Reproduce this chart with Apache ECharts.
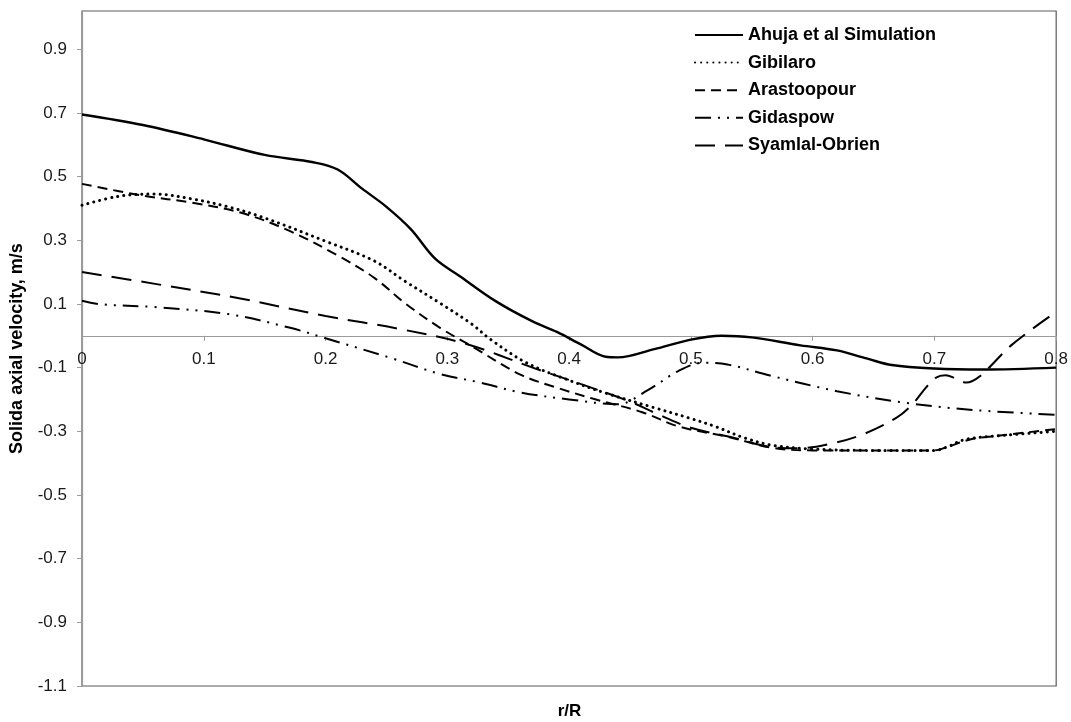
<!DOCTYPE html>
<html>
<head>
<meta charset="utf-8">
<title>Solids axial velocity profiles</title>
<script src="https://cdn.jsdelivr.net/npm/echarts@6/dist/echarts.min.js"></script>
<style>
  html, body { margin: 0; padding: 0; background: #fff; }
  #chart { width: 1071px; height: 722px; }
</style>
</head>
<body>
<div id="chart"></div>
<script>
// Radial profiles of solids axial velocity: [r/R, velocity m/s]
const ahuja = [
  [0, 0.695], [0.05, 0.662], [0.1, 0.617], [0.15, 0.568], [0.19, 0.545], [0.21, 0.522],
  [0.23, 0.462], [0.25, 0.405], [0.27, 0.335], [0.29, 0.242], [0.31, 0.188], [0.34, 0.108],
  [0.37, 0.045], [0.39, 0.012], [0.41, -0.028], [0.43, -0.066], [0.44, -0.068], [0.47, -0.042],
  [0.5, -0.012], [0.525, 0.0], [0.55, -0.005], [0.59, -0.03], [0.62, -0.046], [0.645, -0.072],
  [0.665, -0.092], [0.7, -0.103], [0.74, -0.106], [0.8, -0.1]
];
const gibilaro = [
  [0, 0.41], [0.03, 0.438], [0.06, 0.445], [0.09, 0.43], [0.12, 0.405], [0.15, 0.37],
  [0.2, 0.297], [0.24, 0.235], [0.265, 0.172], [0.295, 0.1], [0.32, 0.037], [0.335, -0.01],
  [0.365, -0.085], [0.4, -0.14], [0.43, -0.18], [0.47, -0.226], [0.5, -0.26], [0.52, -0.285],
  [0.545, -0.322], [0.567, -0.344], [0.6, -0.356], [0.65, -0.36], [0.7, -0.36], [0.71, -0.35],
  [0.725, -0.326], [0.75, -0.315], [0.8, -0.3]
];
const arastoopour = [
  [0, 0.477], [0.05, 0.44], [0.09, 0.418], [0.13, 0.387], [0.17, 0.33], [0.21, 0.252],
  [0.24, 0.182], [0.266, 0.1], [0.294, 0.025], [0.321, -0.035], [0.36, -0.122], [0.39, -0.163],
  [0.42, -0.198], [0.46, -0.24], [0.49, -0.285], [0.53, -0.317], [0.567, -0.352], [0.6, -0.36],
  [0.7, -0.36], [0.71, -0.35], [0.73, -0.325], [0.75, -0.315], [0.8, -0.293]
];
const gidaspow = [
  [0, 0.11], [0.015, 0.099], [0.06, 0.09], [0.12, 0.068], [0.171, 0.025], [0.2, -0.008],
  [0.253, -0.069], [0.294, -0.12], [0.327, -0.147], [0.36, -0.178], [0.4, -0.2], [0.44, -0.215],
  [0.465, -0.17], [0.49, -0.11], [0.51, -0.085], [0.53, -0.09], [0.565, -0.125], [0.62, -0.174],
  [0.675, -0.21], [0.735, -0.234], [0.8, -0.248]
];
const syamlal = [
  [0, 0.2], [0.06, 0.163], [0.13, 0.117], [0.2, 0.062], [0.26, 0.022], [0.315, -0.025],
  [0.37, -0.1], [0.41, -0.152], [0.45, -0.207], [0.475, -0.25], [0.5, -0.289], [0.535, -0.32],
  [0.567, -0.35], [0.59, -0.353], [0.614, -0.34], [0.641, -0.31], [0.669, -0.257], [0.682, -0.215],
  [0.693, -0.163], [0.701, -0.132], [0.709, -0.124], [0.718, -0.135], [0.726, -0.147],
  [0.737, -0.128], [0.764, -0.027], [0.8, 0.075]
];

const seriesNames = ['Ahuja et al Simulation', 'Gibilaro', 'Arastoopour', 'Gidaspow', 'Syamlal-Obrien'];
const xTicks = { min: 0, max: 0.8, step: 0.1 };
const yTicks = { min: -1.1, max: 1.02, step: 0.2 };

const FONT = "'Liberation Sans', Arial, sans-serif";
const W = 1071, H = 722;
const GRID = { left: 82, right: 14, top: 11, bottom: 36 };

// the r/R axis runs along y = 0, so lift it from the grid bottom to that level
const gridH = H - GRID.top - GRID.bottom;
const zeroOffset = -gridH * (0 - yTicks.min) / (yTicks.max - yTicks.min);

function lineSeries(name, data, width, dash, cap) {
  return {
    name: name,
    type: 'line',
    data: data,
    smooth: 0.35,
    symbol: 'none',
    lineStyle: { color: '#000', width: width, type: dash, cap: cap || 'butt' },
    itemStyle: { color: '#000' },
    z: 3
  };
}

const chart = echarts.init(document.getElementById('chart'), null, { renderer: 'canvas' });

chart.setOption({
  animation: false,
  backgroundColor: '#fff',
  grid: {
    left: GRID.left, right: GRID.right, top: GRID.top, bottom: GRID.bottom,
    show: true, borderColor: '#5a5a5a', borderWidth: 1.2
  },
  legend: {
    orient: 'vertical',
    left: 694, top: 26,
    padding: 0,
    itemWidth: 48, itemHeight: 18, itemGap: 9.6,
    itemStyle: { opacity: 0 },
    textStyle: { fontFamily: FONT, fontSize: 18, lineHeight: 18, fontWeight: 'bold', color: '#000' },
    data: seriesNames
  },
  xAxis: {
    type: 'value',
    position: 'bottom',
    offset: zeroOffset,
    min: xTicks.min, max: xTicks.max, interval: xTicks.step,
    axisLine: { onZero: false, lineStyle: { color: '#9a9a9a', width: 1.2 } },
    axisTick: { show: true, inside: false, length: 5, lineStyle: { color: '#9a9a9a' } },
    axisLabel: {
      margin: 15, fontFamily: FONT, fontSize: 17, color: '#1a1a1a',
      formatter: v => (v === 0 ? '0' : v.toFixed(1))
    },
    splitLine: { show: false }
  },
  yAxis: {
    type: 'value',
    min: yTicks.min, max: yTicks.max, interval: yTicks.step,
    name: 'Solida axial velocity, m/s',
    nameLocation: 'middle', nameGap: 56,
    nameTextStyle: { fontFamily: FONT, fontSize: 18, fontWeight: 'bold', color: '#000' },
    axisLine: { show: true, onZero: false, lineStyle: { color: '#9a9a9a', width: 1.2 } },
    axisTick: { show: true, length: 5, lineStyle: { color: '#9a9a9a' } },
    axisLabel: {
      margin: 15, fontFamily: FONT, fontSize: 17, color: '#1a1a1a',
      showMaxLabel: false,
      formatter: v => v.toFixed(1)
    },
    splitLine: { show: false }
  },
  graphic: [{
    type: 'text',
    x: GRID.left + (W - GRID.left - GRID.right) / 2, y: 703,
    style: {
      text: 'r/R', fontFamily: FONT, fontSize: 17, fontWeight: 'bold',
      fill: '#000', textAlign: 'center', textVerticalAlign: 'top'
    }
  }],
  series: [
    lineSeries(seriesNames[0], ahuja, 2.4, 'solid'),
    lineSeries(seriesNames[1], gibilaro, 3, [0.1, 6], 'round'),
    lineSeries(seriesNames[2], arastoopour, 2, [10, 6]),
    lineSeries(seriesNames[3], gidaspow, 2, [16, 7, 2, 7, 2, 7]),
    lineSeries(seriesNames[4], syamlal, 2, [20, 10])
  ]
});
</script>
</body>
</html>
